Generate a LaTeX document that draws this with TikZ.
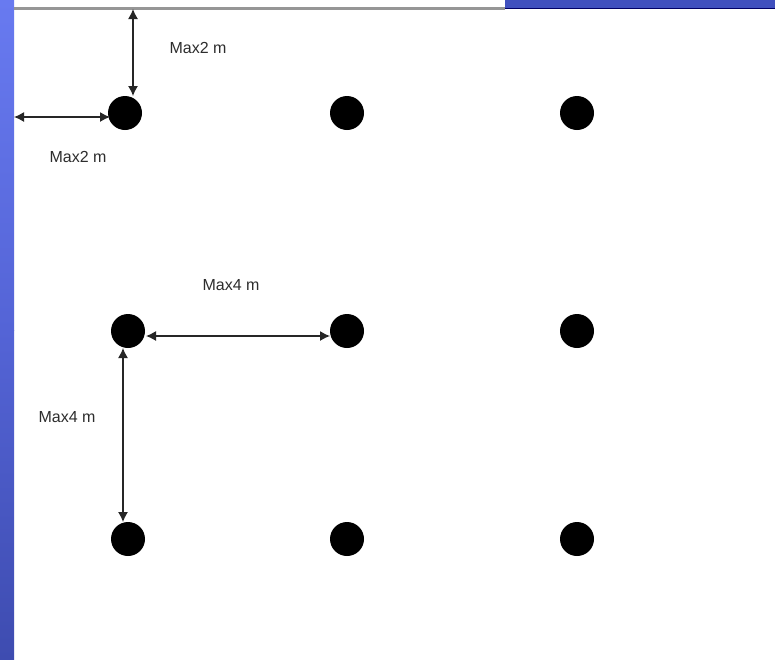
\documentclass[tikz,border=0pt]{standalone}
\usepackage{fontspec}
\setmainfont{Liberation Sans}
\usetikzlibrary{arrows.meta}
\definecolor{bandtop}{RGB}{104,122,240}
\definecolor{bandmid}{RGB}{84,100,214}
\definecolor{bandlow}{RGB}{62,76,176}
\definecolor{topband}{RGB}{64,80,190}
\definecolor{wallgrey}{RGB}{150,150,150}
\definecolor{labelgrey}{RGB}{45,45,45}
\tikzset{
  post/.style={circle,fill=black,draw=none,minimum size=34pt,inner sep=0pt},
  dim/.style={line width=1.3pt,black!85,{Latex[length=10pt,width=10pt]}-{Latex[length=10pt,width=10pt]}},
  dimlabel/.style={font=\fontsize{16}{18}\selectfont,text=labelgrey,inner sep=0pt}
}
\begin{document}
\begin{tikzpicture}[x=1pt,y=-1pt]
\useasboundingbox (0,0) rectangle (775,659);
\fill[white] (0,0) rectangle (775,659);
% side band
\shade[top color=bandtop,bottom color=bandmid] (0,0) rectangle (14,330);
\shade[top color=bandmid,bottom color=bandlow] (0,330) rectangle (14,659);
% top edge
\fill[topband] (505,0) rectangle (775,8);
\draw[line width=1pt,black!60!blue] (505,8.5) -- (775,8.5);
\draw[line width=2.2pt,wallgrey] (14,8.5) -- (505,8.5);
% posts
\node[post] (a1) at (125,113) {};
\node[post] (a2) at (347,113) {};
\node[post] (a3) at (577,113) {};
\node[post] (b1) at (128,331) {};
\node[post] (b2) at (347,331) {};
\node[post] (b3) at (577,331) {};
\node[post] (c1) at (128,539) {};
\node[post] (c2) at (347,539) {};
\node[post] (c3) at (577,539) {};
% free ends and connector anchors
\coordinate (wallT) at (133,9);
\coordinate (postT) at (133,96);
\coordinate (wallL) at (14,117);
\coordinate (postL) at (110,117);
\coordinate (hA) at (146,336);
\coordinate (hB) at (330,336);
\coordinate (vA) at (123,348);
\coordinate (vB) at (123,522);
\draw[dim] (wallT) -- (postT);
\draw[dim] (wallL) -- (postL);
\draw[dim] (hA) -- (hB);
\draw[dim] (vA) -- (vB);
% labels
\node[dimlabel] (l1) at (198,48) {Max2 m};
\node[dimlabel] (l2) at (78,157) {Max2 m};
\node[dimlabel] (l3) at (231,285) {Max4 m};
\node[dimlabel] (l4) at (67,417) {Max4 m};
\end{tikzpicture}
\end{document}
